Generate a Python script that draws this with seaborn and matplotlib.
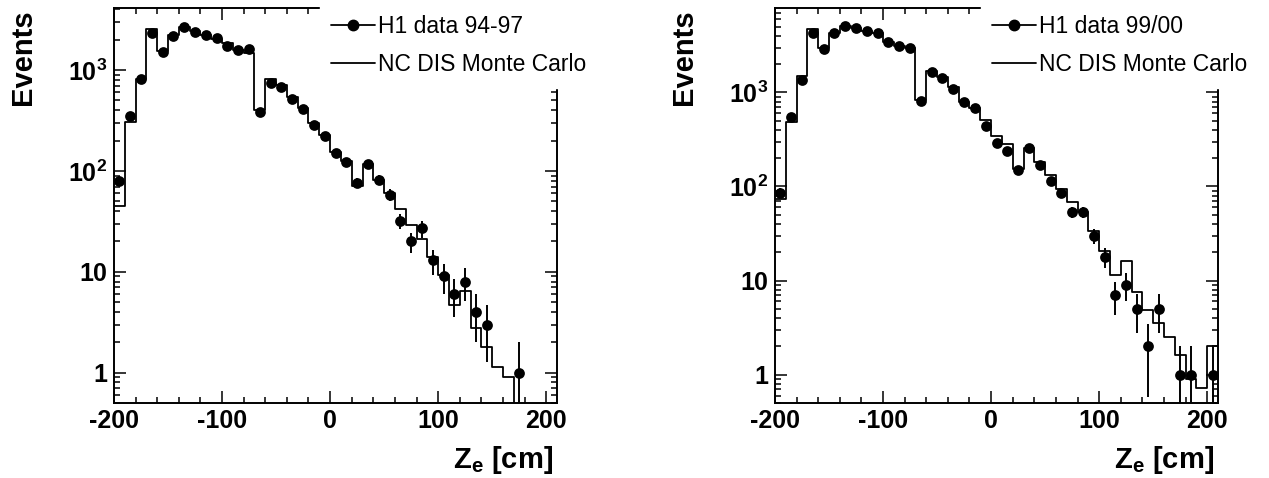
import numpy as np
import matplotlib
matplotlib.use("Agg")
import matplotlib.pyplot as plt
import seaborn as sns
from matplotlib.lines import Line2D
from matplotlib.ticker import FixedLocator, FixedFormatter, MultipleLocator, NullFormatter

# ---------------- data ----------------
bin_edges = list(range(-200, 220, 10))          # 42 edges, 41 bins of 10 cm
bin_centers = list(range(-195, 210, 10))        # 41 bin centres

data_9497 = [80, 350, 815, 2310, 1500, 2170, 2650, 2360, 2220, 2090,
             1730, 1580, 1615, 386, 749, 674, 513, 414, 287, 220,
             150, 124, 76, 117, 82, 58, 32, 20, 27, 13,
             9, 6, 8, 4, 3, 0, 0, 1, 0, 0, 0]
mc_9497 = [45, 307, 809, 2540, 1560, 2250, 2700, 2450, 2250, 2050,
           1870, 1580, 1485, 401, 809, 710, 543, 417, 296, 227,
           155, 126, 70.5, 118, 82, 60, 42, 29, 21, 14,
           9.2, 4.7, 6.4, 2.8, 1.8, 1.15, 0.91, 0, 0, 0, 0]

data_9900 = [86, 551, 1365, 4270, 2890, 4320, 5090, 4810, 4510, 4270,
             3420, 3080, 2960, 805, 1630, 1420, 1090, 785, 686, 437,
             292, 238, 150, 259, 169, 115, 86, 53, 53, 30,
             18, 7, 9, 5, 2, 5, 0, 1, 1, 0, 1]
mc_9900 = [73, 483, 1480, 4700, 3000, 4300, 5100, 4850, 4500, 4250,
           3420, 3080, 2960, 838, 1670, 1450, 1130, 800, 675, 510,
           343, 285, 155, 259, 184, 133, 95, 69, 53, 34,
           20.8, 11.6, 16.3, 7.5, 4.9, 3.5, 2.5, 1.6, 0.89, 0.72, 2.0]

data_labels = ["H1 data 94-97", "H1 data 99/00"]
mc_label = "NC DIS Monte Carlo"
x_ticks = [-200, -100, 0, 100, 200]
y_ticks = [1, 10, 100, 1000]
y_tick_labels = ["1", "10", r"$\mathbf{10^{2}}$", r"$\mathbf{10^{3}}$"]
y_limits = [(0.5, 4100), (0.5, 7830)]

# ---------------- style ----------------
sns.set_style("ticks")
plt.rcParams["font.family"] = ["Liberation Sans", "DejaVu Sans"]
plt.rcParams["mathtext.fontset"] = "custom"
plt.rcParams["mathtext.rm"] = "Liberation Sans"
plt.rcParams["mathtext.bf"] = "Liberation Sans:bold"
plt.rcParams["mathtext.it"] = "Liberation Sans:italic"
plt.rcParams["axes.unicode_minus"] = False
for key in ["text.color", "axes.labelcolor", "xtick.color", "ytick.color",
            "xtick.labelcolor", "ytick.labelcolor", "axes.edgecolor"]:
    plt.rcParams[key] = "black"

W, H = 1269, 478
fig = plt.figure(figsize=(W / 100, H / 100), dpi=100)

ax_px = [(114, 8.3, 557, 403), (775, 8.3, 1218, 403)]  # left, top, right, bottom in pixels
datasets = [(data_9497, mc_9497), (data_9900, mc_9900)]

for i, ((l, t, r, b), (dat, mc)) in enumerate(zip(ax_px, datasets)):
    ax = fig.add_axes([l / W, 1 - b / H, (r - l) / W, (b - t) / H])
    ax.set_facecolor("white")

    # MC histogram as step line
    sns.histplot(x=bin_centers, weights=mc, bins=bin_edges, element="step",
                 fill=False, color="black", linewidth=1.3, ax=ax, zorder=2)

    d = np.array(dat, dtype=float)
    c = np.array(bin_centers, dtype=float)
    m = d > 0
    err = np.sqrt(d[m])
    ax.errorbar(c[m], d[m], yerr=err, fmt="none", ecolor="black",
                elinewidth=1.4, capsize=0, zorder=3)
    sns.scatterplot(x=c[m], y=d[m], color="black", edgecolor="black",
                    s=60, marker="o", linewidth=0, ax=ax, zorder=4)

    ax.set_yscale("log")
    ax.set_xlim(-200, 210)
    ax.set_ylim(*y_limits[i])

    ax.xaxis.set_major_locator(FixedLocator(x_ticks))
    ax.xaxis.set_minor_locator(MultipleLocator(20))
    ax.yaxis.set_major_locator(FixedLocator(y_ticks))
    ax.yaxis.set_major_formatter(FixedFormatter(y_tick_labels))
    minor_y = [k * 10 ** e for e in range(-1, 4) for k in range(2, 10)]
    ax.yaxis.set_minor_locator(FixedLocator(minor_y))
    ax.yaxis.set_minor_formatter(NullFormatter())

    ax.tick_params(which="both", direction="in", top=True, right=True,
                   width=1.1, color="black")
    ax.tick_params(which="major", length=8.5)
    ax.tick_params(which="minor", length=4.3)
    ax.tick_params(axis="x", which="major", labelsize=18, pad=4)
    ax.tick_params(axis="y", which="major", labelsize=18, pad=5)
    for lab in ax.get_xticklabels() + ax.get_yticklabels():
        lab.set_fontweight("bold")
    for s in ax.spines.values():
        s.set_color("black")
        s.set_linewidth(1.4)
    ax.set_xlabel("")
    ax.set_ylabel("")

    # axis titles
    fig.text((l - 91) / W, 1 - 9 / H, "Events", rotation=90, ha="center", va="top",
             fontsize=21, fontweight="bold", color="black")
    fig.text((r - 4) / W, 1 - 468 / H, r"$\mathbf{Z_{e}}$ [cm]", ha="right",
             va="baseline", fontsize=21, fontweight="bold", color="black")

    handles = [Line2D([], [], color="black", lw=1.3, marker="o", markersize=7.5),
               Line2D([], [], color="black", lw=1.3)]
    leg = fig.legend(handles, [data_labels[i], mc_label], loc="upper left",
                     bbox_to_anchor=((l + 206) / W, 1 - 4 / H), bbox_transform=fig.transFigure,
                     frameon=True, facecolor="white", edgecolor="white", framealpha=1,
                     fancybox=False, fontsize=16.5, handlelength=1.88, handletextpad=0.17,
                     labelspacing=0.65, borderpad=0.5, borderaxespad=0)
    for txt in leg.get_texts():
        txt.set_color("black")

fig.savefig("out.png", dpi=100)
